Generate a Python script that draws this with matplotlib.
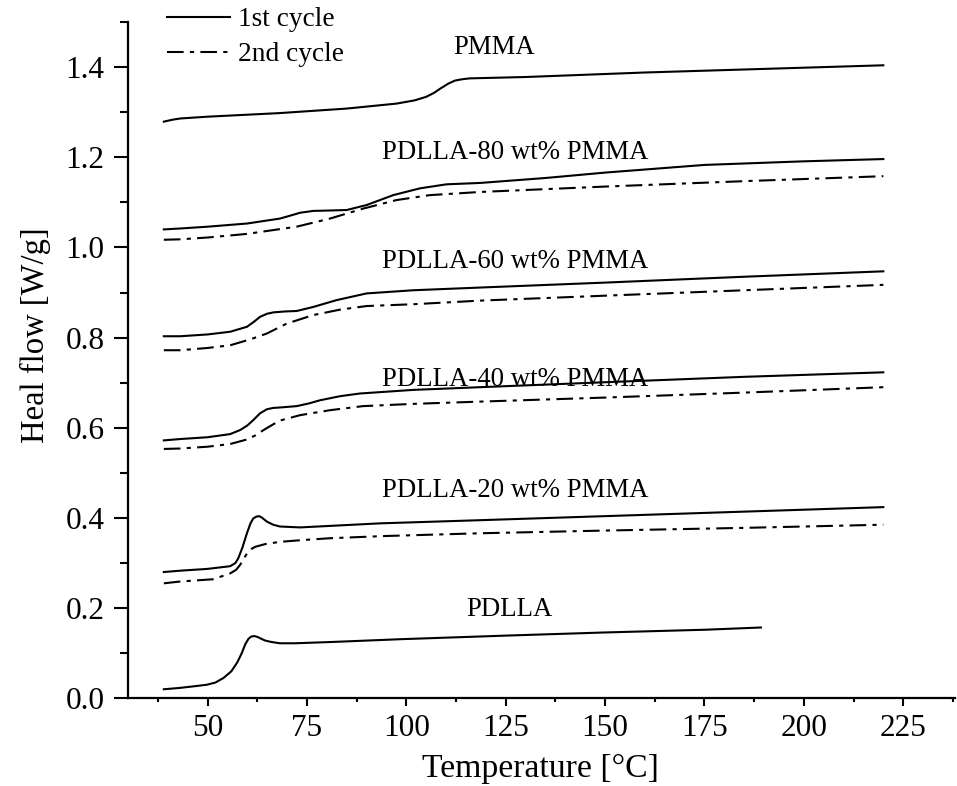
import matplotlib
matplotlib.use("Agg")
import matplotlib.pyplot as plt
from matplotlib.ticker import MultipleLocator

plt.rcParams['font.family'] = ['Liberation Serif', 'DejaVu Serif']

# ---- data ----
T_pdlla = [39, 43, 47, 49.8, 52, 54, 56, 57.5, 58.6, 59.5, 60.3, 61.0, 61.8, 62.6, 63.5, 64.5, 66, 68.2, 72, 81.6, 98.4, 125, 150, 175, 189.2]
v_pdlla = [0.020, 0.023, 0.027, 0.030, 0.035, 0.045, 0.060, 0.080, 0.100, 0.120, 0.132, 0.137, 0.138, 0.136, 0.132, 0.128, 0.125, 0.122, 0.122, 0.125, 0.131, 0.139, 0.146, 0.152, 0.157]

T_20a = [39, 43.1, 50, 55.7, 57.0, 57.7, 58.8, 59.9, 60.8, 61.5, 62.3, 63.0, 63.8, 64.9, 66.5, 68.2, 73.3, 93.4, 118.5, 150, 185, 220]
v_20a = [0.280, 0.283, 0.287, 0.293, 0.300, 0.310, 0.335, 0.366, 0.388, 0.399, 0.403, 0.404, 0.400, 0.392, 0.385, 0.381, 0.379, 0.388, 0.395, 0.404, 0.414, 0.424]
T_20b = [39, 43.1, 51.4, 55.7, 57.2, 58.2, 59.0, 59.9, 61.0, 62.0, 64.5, 68.2, 74, 80.8, 95, 118.5, 150, 185, 220]
v_20b = [0.255, 0.259, 0.264, 0.277, 0.285, 0.296, 0.308, 0.321, 0.331, 0.336, 0.342, 0.347, 0.351, 0.355, 0.360, 0.366, 0.372, 0.378, 0.385]

T_40a = [39, 43.1, 50, 55.7, 58.2, 60, 61.5, 63.2, 64.9, 66.5, 68.2, 72.4, 75.5, 78.3, 83.3, 88.3, 101.7, 118.5, 150, 185, 220]
v_40a = [0.572, 0.575, 0.579, 0.586, 0.595, 0.605, 0.617, 0.632, 0.641, 0.644, 0.645, 0.648, 0.654, 0.661, 0.670, 0.676, 0.684, 0.690, 0.701, 0.713, 0.723]
T_40b = [39, 43.1, 50, 55.7, 59.9, 62, 64.1, 66.2, 68.2, 73.3, 80.8, 89.1, 101.7, 118.5, 150, 185, 220]
v_40b = [0.553, 0.554, 0.558, 0.564, 0.574, 0.583, 0.595, 0.606, 0.616, 0.628, 0.639, 0.648, 0.653, 0.658, 0.667, 0.678, 0.690]

T_60a = [39, 43.1, 50, 55.7, 59.9, 61.5, 63.2, 65, 66.6, 69.5, 72.4, 76.6, 82.4, 90, 101.7, 118.5, 150, 185, 220]
v_60a = [0.803, 0.803, 0.807, 0.813, 0.824, 0.834, 0.846, 0.853, 0.856, 0.858, 0.859, 0.868, 0.883, 0.898, 0.905, 0.911, 0.922, 0.935, 0.947]
T_60b = [39, 43.1, 50, 55.7, 60.7, 64.9, 69.9, 76.6, 83.3, 90, 101.7, 118.5, 150, 185, 220]
v_60b = [0.772, 0.772, 0.777, 0.783, 0.796, 0.809, 0.831, 0.850, 0.862, 0.870, 0.874, 0.882, 0.893, 0.905, 0.917]

T_80a = [39, 43.1, 50, 59.9, 68.2, 71, 73.3, 76.6, 81, 85, 90, 96.7, 103.4, 110.1, 118.5, 135, 150, 175, 200, 220]
v_80a = [1.040, 1.042, 1.046, 1.053, 1.064, 1.071, 1.077, 1.081, 1.082, 1.083, 1.094, 1.116, 1.131, 1.140, 1.143, 1.154, 1.166, 1.183, 1.191, 1.196]
T_80b = [39, 43.1, 50, 59.9, 72.4, 80.8, 89.1, 97.5, 105.9, 118.5, 150, 185, 220]
v_80b = [1.017, 1.018, 1.022, 1.030, 1.046, 1.064, 1.086, 1.105, 1.116, 1.123, 1.135, 1.147, 1.158]

T_pmma = [39, 41, 43.1, 50, 68.2, 85, 97.5, 102, 105, 107, 108.5, 110.5, 112.2, 114, 116, 130, 160, 190, 220]
v_pmma = [1.279, 1.283, 1.286, 1.290, 1.298, 1.308, 1.319, 1.326, 1.334, 1.343, 1.352, 1.363, 1.370, 1.373, 1.375, 1.378, 1.388, 1.396, 1.404]

labels = ["PMMA", "PDLLA-80 wt% PMMA", "PDLLA-60 wt% PMMA",
          "PDLLA-40 wt% PMMA", "PDLLA-20 wt% PMMA", "PDLLA"]
label_T = [122, 127.5, 127.5, 127.5, 127.5, 126]
label_v = [1.444, 1.211, 0.968, 0.707, 0.460, 0.196]

xticks = [50, 75, 100, 125, 150, 175, 200, 225]
yticks = [0.0, 0.2, 0.4, 0.6, 0.8, 1.0, 1.2, 1.4]

# ---- plot ----
fig = plt.figure(figsize=(9.57, 7.86), dpi=100)
ax = fig.add_axes([0.1338, 0.1116, 0.864, 0.8604])

lw = 1.5
dash = (0, (8, 3, 2, 3))
ax.plot(T_pmma, v_pmma, color='black', lw=lw, label='1st cycle')
ax.plot(T_80b, v_80b, color='black', lw=lw, linestyle=dash, label='2nd cycle')
ax.plot(T_80a, v_80a, color='black', lw=lw)
ax.plot(T_60a, v_60a, color='black', lw=lw)
ax.plot(T_60b, v_60b, color='black', lw=lw, linestyle=dash)
ax.plot(T_40a, v_40a, color='black', lw=lw)
ax.plot(T_40b, v_40b, color='black', lw=lw, linestyle=dash)
ax.plot(T_20a, v_20a, color='black', lw=lw)
ax.plot(T_20b, v_20b, color='black', lw=lw, linestyle=dash)
ax.plot(T_pdlla, v_pdlla, color='black', lw=lw)

for lab, tx, ty in zip(labels, label_T, label_v):
    ax.text(tx, ty, lab, ha='center', va='center', fontsize=19.3)

ax.set_xlim(30, 238)
ax.set_ylim(0, 1.5)
ax.set_xticks(xticks)
ax.set_yticks(yticks)
ax.set_yticklabels([f"{y:.1f}" for y in yticks])
ax.xaxis.set_minor_locator(MultipleLocator(12.5))
ax.yaxis.set_minor_locator(MultipleLocator(0.1))

for s in ['top', 'right']:
    ax.spines[s].set_visible(False)
for s in ['left', 'bottom']:
    ax.spines[s].set_linewidth(1.6)

ax.tick_params(axis='x', which='major', direction='out', length=6, width=1.5, labelsize=22.5, pad=5)
ax.tick_params(axis='x', which='minor', direction='out', length=3, width=1.5)
ax.tick_params(axis='y', which='major', direction='out', length=10, width=1.5, labelsize=22.5, pad=7)
ax.tick_params(axis='y', which='minor', direction='out', length=6, width=1.5)

ax.set_xlabel('Temperature [°C]', fontsize=24.3, va='center')
ax.xaxis.set_label_coords((540 - 128) / 827, (698.3 - 769) / 676.3)
ax.set_ylabel('Heal flow [W/g]', fontsize=23.5, va='center')
ax.yaxis.set_label_coords((35 - 128) / 827, (698.3 - 335) / 676.3)

leg = ax.legend(loc='upper left', bbox_to_anchor=(167 / 957, 1 - 7 / 786),
                bbox_transform=fig.transFigure, frameon=False,
                fontsize=19.7, handlelength=2.3, handletextpad=0.3, labelspacing=0.36,
                borderpad=0, borderaxespad=0)

fig.savefig('out.png', dpi=100)
